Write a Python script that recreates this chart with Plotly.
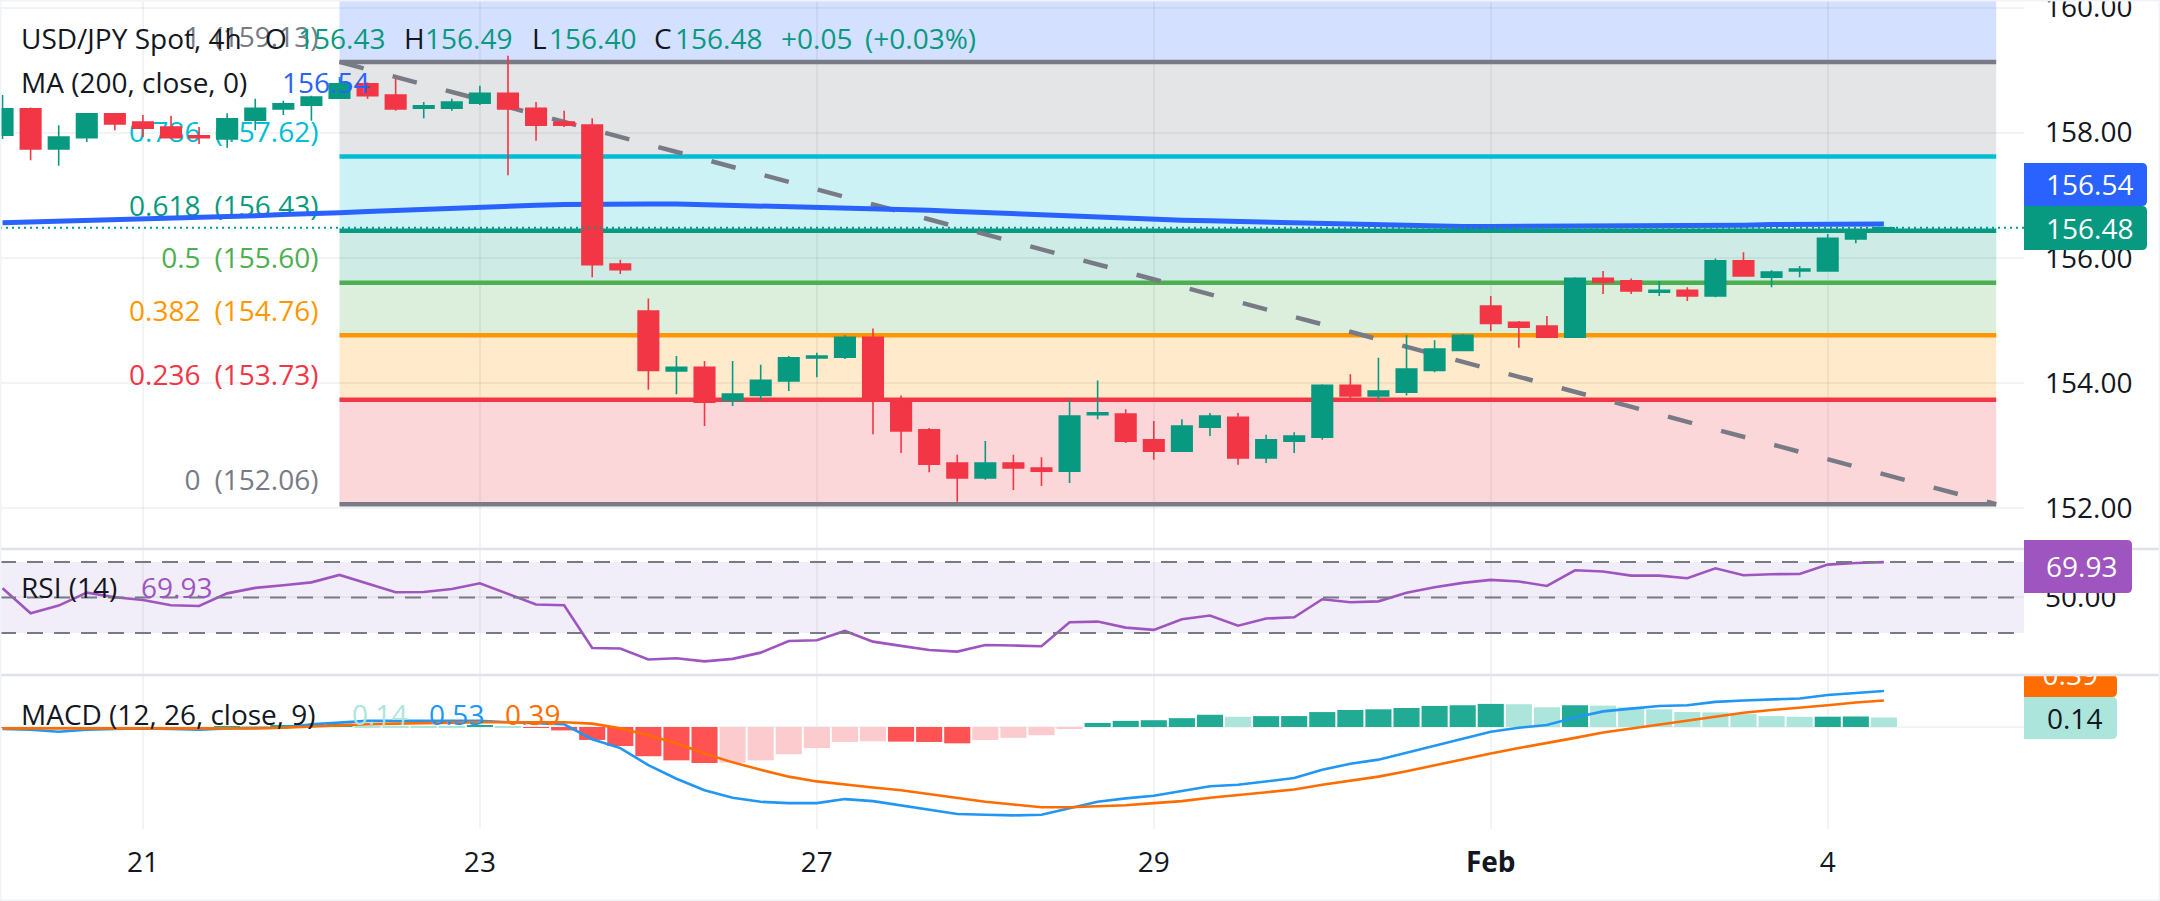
import plotly.graph_objects as go

W, H = 2160, 901
FONT = "Open Sans"
FS = 28
INK = "#131722"
GREEN = "#089981"
RED = "#F23645"
BLUE = "#2962FF"
GREY = "#787B86"
PURPLE = "#9F55BF"
GRID = "rgba(42,46,57,0.06)"

# 4h bars
opens = [157.96, 158.38, 157.74, 157.92, 158.30, 158.17, 158.09, 157.95, 157.90, 158.20, 158.38, 158.44,
         158.55, 158.78, 158.60, 158.39, 158.39, 158.47, 158.63, 158.39, 158.17, 158.12, 155.90, 155.15,
         154.19, 154.25, 153.72, 153.80, 154.03, 154.40, 154.41, 154.73, 153.72, 153.25, 152.72, 152.48,
         152.72, 152.64, 152.59, 153.49, 153.50, 153.09, 152.91, 153.29, 153.45, 152.80, 153.07, 153.13,
         153.96, 153.79, 153.85, 154.20, 154.52, 155.23, 154.97, 154.91, 154.73, 155.67, 155.63, 155.45,
         155.48, 155.39, 155.95, 155.69, 155.79, 155.79, 156.30, 156.43]
highs = [158.60, 158.40, 158.12, 158.30, 158.30, 158.28, 158.27, 158.09, 158.31, 158.54, 158.51, 158.59,
         158.89, 158.80, 158.86, 158.49, 158.54, 158.75, 159.23, 158.49, 158.35, 158.23, 155.97, 155.35,
         154.43, 154.35, 154.35, 154.29, 154.43, 154.48, 154.76, 154.87, 153.80, 153.28, 152.85, 153.07,
         152.85, 152.81, 153.74, 154.04, 153.58, 153.39, 153.42, 153.52, 153.52, 153.17, 153.21, 153.98,
         154.14, 154.40, 154.76, 154.68, 154.78, 155.39, 154.99, 155.07, 155.69, 155.79, 155.67, 155.63,
         155.53, 155.99, 156.09, 155.80, 155.87, 156.38, 156.42, 156.49]
lows = [157.90, 157.56, 157.47, 157.85, 158.04, 157.93, 157.90, 157.82, 157.76, 158.04, 158.28, 158.19,
        158.54, 158.54, 158.35, 158.23, 158.35, 158.44, 157.32, 157.87, 158.09, 155.69, 155.74, 153.89,
        153.82, 153.31, 153.63, 153.72, 153.87, 154.09, 154.38, 153.18, 152.88, 152.57, 152.10, 152.45,
        152.29, 152.35, 152.40, 153.42, 153.04, 152.77, 152.90, 153.15, 152.69, 152.72, 152.88, 153.09,
        153.74, 153.71, 153.80, 154.17, 154.52, 154.83, 154.56, 154.72, 154.72, 155.42, 155.42, 155.39,
        155.31, 155.37, 155.70, 155.53, 155.69, 155.78, 156.23, 156.40]
closes = [158.38, 157.74, 157.93, 158.30, 158.14, 158.07, 157.92, 157.92, 158.22, 158.39, 158.46, 158.57,
          158.78, 158.59, 158.38, 158.43, 158.49, 158.63, 158.38, 158.12, 158.12, 155.89, 155.81, 154.20,
          154.25, 153.69, 153.82, 154.04, 154.40, 154.43, 154.73, 153.72, 153.23, 152.70, 152.48, 152.72,
          152.64, 152.59, 153.47, 153.52, 153.07, 152.91, 153.31, 153.47, 152.80, 153.09, 153.15, 153.96,
          153.79, 153.87, 154.22, 154.54, 154.76, 154.95, 154.89, 154.73, 155.67, 155.61, 155.47, 155.48,
          155.39, 155.95, 155.71, 155.77, 155.82, 156.31, 156.41, 156.48]

ma200 = [156.56, 156.57, 156.58, 156.59, 156.61, 156.62, 156.64, 156.65, 156.66, 156.67, 156.69, 156.70,
         156.72, 156.74, 156.76, 156.78, 156.80, 156.81, 156.82, 156.84, 156.85, 156.86, 156.86, 156.86,
         156.86, 156.85, 156.84, 156.83, 156.82, 156.81, 156.80, 156.79, 156.78, 156.76, 156.74, 156.72,
         156.70, 156.68, 156.66, 156.65, 156.63, 156.62, 156.60, 156.59, 156.58, 156.57, 156.56, 156.55,
         156.54, 156.53, 156.52, 156.50, 156.50, 156.50, 156.50, 156.50, 156.50, 156.50, 156.51, 156.51,
         156.51, 156.52, 156.52, 156.53, 156.53, 156.53, 156.54, 156.54]

rsi = [55.2, 41.1, 45.4, 52.7, 50.1, 48.6, 45.6, 45.2, 52.3, 55.4, 56.9, 58.5,
       62.7, 58.0, 52.9, 53.1, 54.8, 58.0, 52.0, 46.0, 45.6, 21.5, 21.2, 15.0,
       15.7, 14.0, 15.4, 18.9, 25.5, 25.9, 31.1, 25.1, 22.7, 20.4, 19.5, 23.2,
       22.9, 22.5, 36.0, 36.4, 33.0, 31.7, 37.7, 39.8, 34.1, 38.1, 38.8, 49.0,
       47.3, 47.8, 52.7, 55.7, 58.2, 59.9, 59.0, 56.5, 65.3, 64.6, 62.3, 62.3,
       60.8, 66.4, 62.5, 63.1, 63.2, 68.5, 69.4, 69.93]

macd = [-0.03, -0.04, -0.07, -0.04, -0.03, -0.02, -0.03, -0.04, -0.02, -0.02, -0.01, 0.04,
        0.07, 0.09, 0.09, 0.09, 0.09, 0.09, 0.07, 0.05, 0.04, -0.18, -0.31, -0.56,
        -0.76, -0.93, -1.04, -1.10, -1.12, -1.12, -1.06, -1.09, -1.15, -1.22, -1.28, -1.29,
        -1.30, -1.29, -1.19, -1.10, -1.05, -1.01, -0.94, -0.87, -0.85, -0.80, -0.75, -0.63,
        -0.54, -0.48, -0.38, -0.27, -0.17, -0.07, -0.01, 0.03, 0.14, 0.23, 0.27, 0.31,
        0.32, 0.37, 0.39, 0.41, 0.42, 0.47, 0.50, 0.53]
signal = [-0.02, -0.02, -0.02, -0.02, -0.02, -0.02, -0.02, -0.03, -0.03, -0.02, -0.01, 0.01,
          0.03, 0.04, 0.05, 0.06, 0.07, 0.07, 0.07, 0.07, 0.07, 0.05, -0.02, -0.12,
          -0.24, -0.39, -0.52, -0.63, -0.73, -0.80, -0.85, -0.89, -0.93, -0.99, -1.05, -1.10,
          -1.14, -1.18, -1.18, -1.17, -1.15, -1.12, -1.09, -1.04, -1.00, -0.97, -0.92, -0.85,
          -0.79, -0.73, -0.65, -0.56, -0.47, -0.39, -0.31, -0.24, -0.16, -0.08, -0.02, 0.04,
          0.10, 0.16, 0.21, 0.25, 0.28, 0.32, 0.36, 0.39]
hist = [-0.01, -0.015, -0.012, -0.011, -0.008, -0.005, -0.01, -0.012, 0.01, 0.005, 0.03, 0.04,
        0.05, 0.02, 0.019, 0.018, 0.017, 0.03, 0.01, -0.01, -0.05, -0.19, -0.28, -0.43,
        -0.49, -0.53, -0.525, -0.49, -0.40, -0.31, -0.22, -0.21, -0.215, -0.22, -0.24, -0.19,
        -0.16, -0.12, -0.03, 0.06, 0.09, 0.10, 0.13, 0.18, 0.15, 0.16, 0.161, 0.22,
        0.25, 0.26, 0.28, 0.31, 0.32, 0.34, 0.335, 0.29, 0.32, 0.315, 0.29, 0.26,
        0.22, 0.215, 0.19, 0.16, 0.15, 0.152, 0.155, 0.14]

fib_ratios = ["1.618", "1", "0.786", "0.618", "0.5", "0.382", "0.236", "0"]
fib_levels = [163.46, 159.13, 157.62, 156.43, 155.60, 154.76, 153.73, 152.06]
fib_colors = ["#2962FF", "#787B86", "#00BCD4", "#089981", "#4CAF50", "#FF9800", "#F23645", "#787B86"]
fib_start, fib_end = 12, 71

date_ticks = [5, 17, 29, 41, 53, 65]
date_labels = ["21", "23", "27", "29", "<b>Feb</b>", "4"]
price_ticks = [152, 154, 156, 158, 160]

bars = list(range(len(closes)))

# chart geometry in page pixels
PLOT_R = 2024
MAIN_B, RSI_B, MACD_B = 549, 675, 829
X_RANGE = [-0.09, 71.99]
MAIN_RANGE = [151.345, 160.12]
RSI_RANGE = [6.3, 77.3]
MACD_RANGE = [-1.5, 0.765]
LABEL_LIFT = 0.12


def px(x):
    return x / W


def py(y):
    return 1 - y / H


def hist_color(i):
    prev = hist[i - 1] if i else hist[i]
    if hist[i] >= 0:
        return "#22AB94" if hist[i] >= prev else "#ACE5DC"
    return "#FF5252" if hist[i] <= prev else "#FCCBCD"


fig = go.Figure()

# fib fills, each zone takes the colour of its upper level
for i in range(len(fib_levels) - 1):
    fig.add_shape(type="rect", xref="x", yref="y", layer="below", line_width=0,
                  x0=fib_start, x1=fib_end, y0=fib_levels[i], y1=fib_levels[i + 1],
                  fillcolor=fib_colors[i], opacity=0.2)

# fib lines and their labels live under the candles
for ratio, level, color in zip(fib_ratios[1:], fib_levels[1:], fib_colors[1:]):
    fig.add_trace(go.Scatter(x=[fib_start, fib_end], y=[level, level], mode="lines",
                             line=dict(color=color, width=4.5), hoverinfo="skip"))
    fig.add_trace(go.Scatter(x=[11.25], y=[level + LABEL_LIFT], mode="text",
                             text=[f"{ratio}\u2002({level:.2f})"], textposition="top left",
                             textfont=dict(family=FONT, size=FS, color=color), hoverinfo="skip"))

fig.add_trace(go.Scatter(x=[fib_start, fib_end], y=[fib_levels[1], fib_levels[-1]], mode="lines",
                         line=dict(color=GREY, width=4.5, dash="25px,30px"), hoverinfo="skip"))
fig.add_trace(go.Scatter(x=bars, y=ma200, mode="lines",
                         line=dict(color=BLUE, width=5), hoverinfo="skip"))

# candles on an overlaid axis, so they stay on top of the drawings
fig.add_trace(go.Candlestick(x=bars, open=opens, high=highs, low=lows, close=closes, yaxis="y4",
                             whiskerwidth=0,
                             increasing=dict(line=dict(color=GREEN, width=1.6), fillcolor=GREEN),
                             decreasing=dict(line=dict(color=RED, width=1.6), fillcolor=RED)))

# RSI
fig.add_shape(type="rect", xref="x domain", yref="y2", layer="below", line_width=0,
              x0=0, x1=1, y0=30, y1=70, fillcolor="#7E57C2", opacity=0.1)
for level in [70, 50, 30]:
    fig.add_shape(type="line", xref="x domain", yref="y2", x0=0, x1=1, y0=level, y1=level,
                  line=dict(color=GREY, width=2, dash="16px,11px"))
fig.add_trace(go.Scatter(x=bars, y=rsi, yaxis="y2", mode="lines",
                         line=dict(color=PURPLE, width=2.6), hoverinfo="skip"))

# MACD
fig.add_trace(go.Bar(x=bars, y=hist, yaxis="y3", marker=dict(color=[hist_color(i) for i in bars], line_width=0),
                     hoverinfo="skip"))
fig.add_trace(go.Scatter(x=bars, y=macd, yaxis="y3", mode="lines",
                         line=dict(color="#2196F3", width=2.6), hoverinfo="skip"))
fig.add_trace(go.Scatter(x=bars, y=signal, yaxis="y3", mode="lines",
                         line=dict(color="#FF6D00", width=2.6), hoverinfo="skip"))

# the orange tag is cut by the top of its pane, so its text goes in a clipped gutter subplot
fig.add_trace(go.Scatter(x=[0.34], y=[0.72], xaxis="x2", yaxis="y5", mode="text", text=["0.39"],
                         textfont=dict(family=FONT, size=FS, color="white"), hoverinfo="skip"))

# current price line
fig.add_shape(type="line", xref="x domain", yref="y", layer="above", x0=0, x1=1,
              y0=closes[-1], y1=closes[-1], line=dict(color=GREEN, width=2, dash="2px,4px"))

# pane separators and outer border
for y in [MAIN_B, RSI_B]:
    fig.add_shape(type="line", xref="paper", yref="paper", x0=0, x1=1, y0=py(y), y1=py(y),
                  line=dict(color="#E0E3EB", width=2.5))
fig.add_shape(type="rect", xref="paper", yref="paper", x0=0, x1=1, y0=0, y1=1,
              line=dict(color="#F0F3FA", width=3))


def label(x, y, text, color=INK, anchor="left"):
    fig.add_annotation(x=px(x), y=py(y), xref="paper", yref="paper", text=text, showarrow=False,
                       xanchor=anchor, yanchor="middle", font=dict(family=FONT, size=FS, color=color),
                       borderpad=0)


def tag(y0, y1, x1, color, layer="above"):
    r = 5
    path = (f"M {px(PLOT_R)} {py(y0)} L {px(x1 - r)} {py(y0)} Q {px(x1)} {py(y0)} {px(x1)} {py(y0 + r)} "
            f"L {px(x1)} {py(y1 - r)} Q {px(x1)} {py(y1)} {px(x1 - r)} {py(y1)} L {px(PLOT_R)} {py(y1)} Z")
    fig.add_shape(type="path", path=path, xref="paper", yref="paper", fillcolor=color, line_width=0, layer=layer)


tag(163, 206, 2147, BLUE)
label(2134, 184, "156.54", "white", "right")
tag(206, 250, 2147, GREEN)
label(2134, 228, "156.48", "white", "right")
tag(540, 593, 2132, PURPLE)
label(2118, 566, "69.93", "white", "right")
tag(675, 697, 2117, "#FF6D00", layer="below")
tag(697, 739, 2117, "#ACE5DC")
label(2103, 718, "0.14", INK, "right")

# legend rows
label(20, 38, "USD/JPY Spot, 4h")
label(264, 38, "O")
label(297, 38, "156.43", GREEN)
label(403, 38, "H")
label(424, 38, "156.49", GREEN)
label(531, 38, "L")
label(548, 38, "156.40", GREEN)
label(653, 38, "C")
label(674, 38, "156.48", GREEN)
label(780, 38, "+0.05", GREEN)
label(864, 38, "(+0.03%)", GREEN)
label(20, 82, "MA (200, close, 0)")
label(281, 82, "156.54", BLUE)
label(20, 587, "RSI (14)")
label(140, 587, "69.93", PURPLE)
label(20, 714, "MACD (12, 26, close, 9)")
label(351, 714, "0.14", "#ACE5DC")
label(428, 714, "0.53", "#2196F3")
label(504, 714, "0.39", "#FF6D00")

tick_font = dict(family=FONT, size=FS, color=INK)

fig.update_layout(
    width=W, height=H,
    margin=dict(l=0, r=0, t=0, b=0, autoexpand=False),
    paper_bgcolor="white", plot_bgcolor="rgba(0,0,0,0)",
    showlegend=False, bargap=0.07, boxgap=0.27, boxgroupgap=0,
    xaxis=dict(domain=[0, px(PLOT_R)], range=X_RANGE, anchor="y3", tickmode="array",
               tickvals=date_ticks, ticktext=date_labels, showgrid=True, gridcolor=GRID, gridwidth=2,
               zeroline=False, showline=False, ticks="", tickfont=tick_font, ticklabelstandoff=14,
               rangeslider=dict(visible=False)),
    xaxis2=dict(domain=[px(PLOT_R), 1], range=[0, 1], anchor="y5", visible=False),
    yaxis=dict(domain=[py(MAIN_B), 1], range=MAIN_RANGE, side="right", anchor="x", tickmode="array",
               tickvals=price_ticks, tickformat=".2f", showgrid=True, gridcolor=GRID, gridwidth=2,
               zeroline=False, ticks="", tickfont=tick_font, ticklabelstandoff=20,
               ticklabeloverflow="allow"),
    yaxis2=dict(domain=[py(RSI_B), py(MAIN_B)], range=RSI_RANGE, side="right", anchor="x", tickmode="array",
                tickvals=[50], tickformat=".2f", showgrid=True, gridcolor=GRID, gridwidth=2,
                zeroline=False, ticks="", tickfont=tick_font, ticklabelstandoff=20),
    yaxis3=dict(domain=[py(MACD_B), py(RSI_B)], range=MACD_RANGE, side="right", anchor="x",
                showticklabels=False, showgrid=False, zeroline=True, zerolinecolor=GRID, zerolinewidth=2,
                ticks=""),
    yaxis4=dict(overlaying="y", range=MAIN_RANGE, side="right", anchor="x", visible=False),
    yaxis5=dict(domain=[py(MACD_B), py(RSI_B)], range=MACD_RANGE, anchor="x2", visible=False),
)

fig.write_html("out.html", config={"displayModeBar": False},
               post_script="document.body.style.margin='0';")
